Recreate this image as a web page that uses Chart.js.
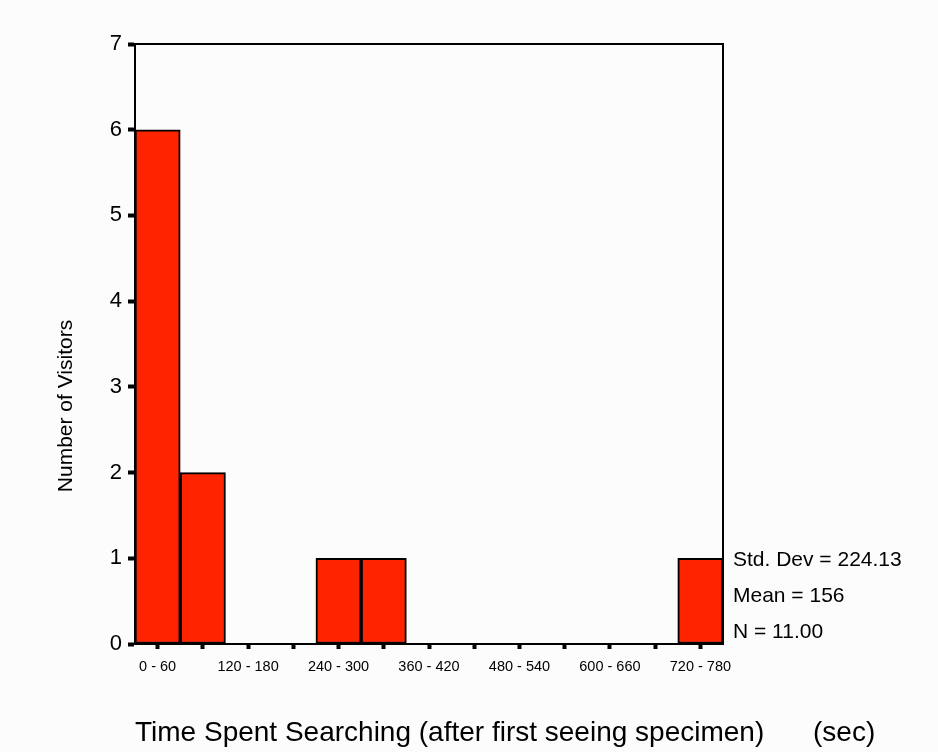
<!DOCTYPE html>
<html>
<head>
<meta charset="utf-8">
<script src="https://cdn.jsdelivr.net/npm/chart.js@4.4.1/dist/chart.umd.min.js"></script>
<style>
  html, body { margin: 0; padding: 0; background: #fcfcfc; }
  canvas { display: block; }
</style>
</head>
<body>
<canvas id="histogram" width="938" height="752"></canvas>
<script>
// Histogram bins (seconds) and the number of visitors in each
const binLabels = ['0 - 60', '60 - 120', '120 - 180', '180 - 240', '240 - 300', '300 - 360',
  '360 - 420', '420 - 480', '480 - 540', '540 - 600', '600 - 660', '660 - 720', '720 - 780'];
const visitorCounts = [6, 2, 0, 0, 1, 1, 0, 0, 0, 0, 0, 0, 1];
const yMax = 7;

// Text around the plot
const xTitle = 'Time Spent Searching (after first seeing specimen)';
const xUnit = '(sec)';
const yTitle = 'Number of Visitors';
const statLines = ['Std. Dev = 224.13', 'Mean = 156', 'N = 11.00'];

const FONT = '"Liberation Sans", Arial, sans-serif';

// Background, frame and the free text (titles and summary stats)
const decorations = {
    id: 'decorations',
    beforeDraw(chart) {
        const ctx = chart.ctx;
        ctx.save();
        ctx.fillStyle = '#fcfcfc';
        ctx.fillRect(0, 0, chart.width, chart.height);
        ctx.restore();
    },
    afterDraw(chart) {
        const ctx = chart.ctx;
        const area = chart.chartArea;
        ctx.save();

        // top and right sides of the box
        ctx.strokeStyle = '#000';
        ctx.lineWidth = 2;
        ctx.beginPath();
        ctx.moveTo(area.left, area.top);
        ctx.lineTo(area.right, area.top);
        ctx.lineTo(area.right, area.bottom);
        ctx.stroke();

        ctx.fillStyle = '#000';

        // x title
        ctx.font = '28px ' + FONT;
        ctx.textAlign = 'left';
        ctx.textBaseline = 'alphabetic';
        ctx.fillText(xTitle, area.left, 741);
        ctx.fillText(xUnit, 813, 741);

        // y title
        ctx.save();
        ctx.translate(66, 406);
        ctx.rotate(-Math.PI / 2);
        ctx.font = '21px ' + FONT;
        ctx.textAlign = 'center';
        ctx.textBaseline = 'middle';
        ctx.fillText(yTitle, 0, 0);
        ctx.restore();

        // summary stats to the right of the plot
        ctx.font = '21px ' + FONT;
        ctx.textAlign = 'left';
        ctx.textBaseline = 'alphabetic';
        statLines.forEach((line, i) => {
            ctx.fillText(line, area.right + 10, 566 + i * 36);
        });

        ctx.restore();
    }
};

new Chart('histogram', {
    type: 'bar',
    data: {
        labels: binLabels,
        datasets: [{
            data: visitorCounts,
            backgroundColor: '#ff2400',
            borderColor: '#000',
            borderWidth: 2,
            borderSkipped: false,
            barPercentage: 1,
            categoryPercentage: 1
        }]
    },
    options: {
        responsive: false,
        animation: false,
        layout: { padding: { left: 0, top: 44, right: 215, bottom: 0 } },
        plugins: {
            legend: { display: false },
            tooltip: { enabled: false }
        },
        scales: {
            x: {
                afterFit(scale) { scale.height = 108; },
                border: { display: true, color: '#000', width: 2 },
                grid: {
                    offset: false,
                    drawOnChartArea: false,
                    drawTicks: true,
                    tickLength: 5,
                    tickWidth: 4,
                    tickColor: '#000'
                },
                ticks: {
                    autoSkip: false,
                    maxRotation: 0,
                    padding: 9,
                    color: '#000',
                    font: { family: FONT, size: 14.5 },
                    callback: function (value, index) {
                        return index % 2 === 0 ? this.getLabelForValue(value) : '';
                    }
                }
            },
            y: {
                min: 0,
                max: yMax,
                afterFit(scale) { scale.width = 135; },
                border: { display: true, color: '#000', width: 2 },
                grid: {
                    drawOnChartArea: false,
                    drawTicks: true,
                    tickLength: 7,
                    tickWidth: 4,
                    tickColor: '#000'
                },
                ticks: {
                    stepSize: 1,
                    padding: 6,
                    color: '#000',
                    font: { family: FONT, size: 22 }
                }
            }
        }
    },
    plugins: [decorations]
});
</script>
</body>
</html>
